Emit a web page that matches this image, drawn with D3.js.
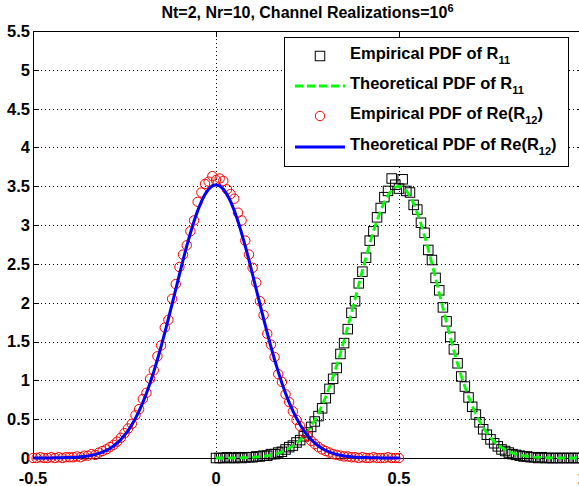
<!DOCTYPE html>
<html>
<head>
<meta charset="utf-8">
<script src="https://cdn.jsdelivr.net/npm/d3@7"></script>
<style>
  html, body { margin: 0; padding: 0; background: #fff; }
  svg { display: block; }
  text { font-family: "Liberation Sans", Arial, sans-serif; font-weight: bold; fill: #000; }
</style>
</head>
<body>
<svg id="chart" width="579" height="486"></svg>
<script>
// histogram bin centres, step 0.01
const re12Bins = d3.range(-50, 51).map(i => i / 100);
const r11Bins = d3.range(0, 101).map(i => i / 100);

// Re(R12), x = -0.50 .. 0.50
const re12Empirical = [
  0.00, 0.00, 0.01, 0.00, 0.00, 0.01, 0.00, 0.01, 0.00, 0.01,
  0.01, 0.01, 0.02, 0.01, 0.03, 0.03, 0.05, 0.04, 0.07, 0.09,
  0.11, 0.14, 0.17, 0.21, 0.26, 0.32, 0.38, 0.44, 0.55, 0.63,
  0.76, 0.84, 1.02, 1.13, 1.31, 1.45, 1.68, 1.78, 2.05, 2.24,
  2.46, 2.62, 2.74, 2.92, 3.06, 3.30, 3.42, 3.53, 3.56, 3.63,
  3.58,
  3.60, 3.57, 3.46, 3.40, 3.34, 3.16, 3.06, 2.80, 2.62, 2.45,
  2.26, 2.02, 1.84, 1.60, 1.46, 1.30, 1.08, 0.98, 0.82, 0.72,
  0.60, 0.49, 0.41, 0.33, 0.28, 0.22, 0.18, 0.14, 0.11, 0.09,
  0.07, 0.05, 0.04, 0.03, 0.02, 0.02, 0.01, 0.01, 0.00, 0.01,
  0.00, 0.00, 0.01, 0.00, 0.00, 0.00, 0.01, 0.00, 0.00, 0.00
];
const re12Theory = [
  0, 0, 0, 0, 0, 0.001, 0.002, 0.002, 0.003, 0.005,
  0.006, 0.008, 0.011, 0.015, 0.020, 0.026, 0.035, 0.045, 0.059, 0.076,
  0.097, 0.123, 0.155, 0.193, 0.238, 0.292, 0.354, 0.427, 0.511, 0.607,
  0.714, 0.834, 0.967, 1.112, 1.269, 1.436, 1.612, 1.795, 1.983, 2.173,
  2.363, 2.551, 2.729, 2.895, 3.051, 3.186, 3.302, 3.396, 3.464, 3.506,
  3.520,
  3.506, 3.464, 3.396, 3.302, 3.186, 3.051, 2.895, 2.729, 2.551, 2.363,
  2.173, 1.983, 1.795, 1.612, 1.436, 1.269, 1.112, 0.967, 0.834, 0.714,
  0.607, 0.511, 0.427, 0.354, 0.292, 0.238, 0.193, 0.155, 0.123, 0.097,
  0.076, 0.059, 0.045, 0.035, 0.026, 0.020, 0.015, 0.011, 0.008, 0.006,
  0.005, 0.003, 0.002, 0.002, 0.001, 0, 0, 0, 0, 0
];

// R11, x = 0.00 .. 1.00
const r11Empirical = [
  0.00, 0.00, 0.00, 0.01, 0.00, 0.00, 0.01, 0.00, 0.01, 0.01,
  0.01, 0.02, 0.02, 0.03, 0.03, 0.05, 0.05, 0.07, 0.08, 0.11,
  0.14, 0.16, 0.20, 0.23, 0.28, 0.33, 0.40, 0.47, 0.54, 0.64,
  0.77, 0.89, 1.02, 1.16, 1.34, 1.48, 1.66, 1.87, 2.02, 2.25,
  2.40, 2.58, 2.80, 2.92, 3.10, 3.22, 3.36, 3.44, 3.60, 3.52,
  3.47,
  3.59, 3.44, 3.42, 3.26, 3.20, 3.03, 2.90, 2.68, 2.55, 2.32,
  2.16, 1.94, 1.76, 1.56, 1.40, 1.22, 1.05, 0.92, 0.78, 0.66,
  0.56, 0.46, 0.37, 0.30, 0.24, 0.19, 0.15, 0.11, 0.09, 0.07,
  0.05, 0.04, 0.03, 0.02, 0.02, 0.01, 0.01, 0.00, 0.01, 0.00,
  0.00, 0.00, 0.00, 0.00, 0.00, 0.00, 0.00, 0.00, 0.00, 0.00
];
const r11Theory = [
  0.000, 0.000, 0.000, 0.001, 0.001, 0.001, 0.002, 0.003, 0.004, 0.005,
  0.009, 0.012, 0.016, 0.022, 0.028, 0.037, 0.048, 0.061, 0.078, 0.099,
  0.124, 0.154, 0.190, 0.233, 0.284, 0.343, 0.411, 0.490, 0.579, 0.679,
  0.792, 0.915, 1.050, 1.195, 1.351, 1.516, 1.690, 1.868, 2.050, 2.233,
  2.414, 2.591, 2.760, 2.918, 3.062, 3.189, 3.298, 3.385, 3.448, 3.487,
  3.500,
  3.486, 3.443, 3.372, 3.276, 3.156, 3.015, 2.857, 2.686, 2.503, 2.314,
  2.123, 1.931, 1.743, 1.558, 1.381, 1.215, 1.058, 0.918, 0.790, 0.671,
  0.566, 0.474, 0.393, 0.324, 0.265, 0.214, 0.172, 0.137, 0.108, 0.085,
  0.066, 0.051, 0.039, 0.030, 0.022, 0.017, 0.012, 0.009, 0.007, 0.005,
  0.003, 0.002, 0.001, 0.001, 0.000, 0.000, 0.000, 0.000, 0.000, 0.000
];

const xTicks = [-0.5, 0, 0.5, 1];
const yTicks = [0, 0.5, 1, 1.5, 2, 2.5, 3, 3.5, 4, 4.5, 5, 5.5];
const titleMain = 'Nt=2, Nr=10, Channel Realizations=10';
const titleSup = '6';
const legendLabels = [
  { text: 'Empirical PDF of R', sub: '11', tail: '' },
  { text: 'Theoretical PDF of R', sub: '11', tail: '' },
  { text: 'Empirical PDF of Re(R', sub: '12', tail: ')' },
  { text: 'Theoretical PDF of Re(R', sub: '12', tail: ')' }
];

const margin = { top: 31, left: 33, bottom: 28 };
const plotRight = 582; // right axis falls just outside the window
const height = 486;

const svg = d3.select('#chart');
const x = d3.scaleLinear().domain([-0.5, 1]).range([margin.left, plotRight]);
const y = d3.scaleLinear().domain([0, 5.5]).range([height - margin.bottom, margin.top]);
const px = v => Math.round(v) + 0.5;

// dotted grid
const grid = svg.append('g').attr('stroke', '#000').attr('stroke-width', 1)
  .attr('stroke-dasharray', '1,3').attr('shape-rendering', 'crispEdges');
grid.selectAll('.gx').data(xTicks.slice(1, -1)).enter().append('line')
  .attr('x1', d => px(x(d))).attr('x2', d => px(x(d)))
  .attr('y1', y(5.5)).attr('y2', y(0));
grid.selectAll('.gy').data(yTicks.slice(1, -1)).enter().append('line')
  .attr('y1', d => px(y(d))).attr('y2', d => px(y(d)))
  .attr('x1', x(-0.5)).attr('x2', x(1));

// axes box and inward ticks
const ax = svg.append('g').attr('stroke', '#000').attr('stroke-width', 1)
  .attr('shape-rendering', 'crispEdges').attr('fill', 'none');
ax.append('rect')
  .attr('x', px(x(-0.5))).attr('y', px(y(5.5)))
  .attr('width', Math.round(x(1)) - Math.round(x(-0.5)))
  .attr('height', Math.round(y(0)) - Math.round(y(5.5)));
const tl = 5;
xTicks.forEach(t => {
  const xx = px(x(t));
  ax.append('line').attr('x1', xx).attr('x2', xx).attr('y1', px(y(0))).attr('y2', px(y(0)) - tl);
  ax.append('line').attr('x1', xx).attr('x2', xx).attr('y1', px(y(5.5))).attr('y2', px(y(5.5)) + tl);
});
yTicks.forEach(t => {
  const yy = px(y(t));
  ax.append('line').attr('y1', yy).attr('y2', yy).attr('x1', px(x(-0.5))).attr('x2', px(x(-0.5)) + tl);
  ax.append('line').attr('y1', yy).attr('y2', yy).attr('x1', px(x(1))).attr('x2', px(x(1)) - tl);
});

// tick labels
svg.selectAll('.xl').data(xTicks).enter().append('text')
  .attr('x', d => x(d)).attr('y', 484)
  .attr('text-anchor', 'middle').style('font-size', '16.5px')
  .text(d => d3.format('')(d).replace('\u2212', '-'));
svg.selectAll('.yl').data(yTicks).enter().append('text')
  .attr('x', 30).attr('y', d => y(d) + 5.9)
  .attr('text-anchor', 'end').style('font-size', '16.5px')
  .text(d => d);

// title
const title = svg.append('text').attr('x', (margin.left + plotRight) / 2).attr('y', 18)
  .attr('text-anchor', 'middle').style('font-size', '16px');
title.append('tspan').text(titleMain);
title.append('tspan').attr('dy', -6).style('font-size', '11px').text(titleSup);

// data layers: squares, green dashed, circles, blue solid
const plot = svg.append('g');
const r11Pts = r11Bins.map((b, i) => [b, r11Empirical[i]]);
const re12Pts = re12Bins.map((b, i) => [b, re12Empirical[i]]);
const line = d3.line().x(d => x(d[0])).y(d => y(d[1]));
const sq = 9.5;
const cr = 4.7;

plot.selectAll('.sq').data(r11Pts).enter().append('rect')
  .attr('x', d => x(d[0]) - sq / 2).attr('y', d => y(d[1]) - sq / 2)
  .attr('width', sq).attr('height', sq)
  .attr('fill', 'none').attr('stroke', '#000').attr('stroke-width', 1);

plot.append('path')
  .datum(r11Bins.map((b, i) => [b, r11Theory[i]]))
  .attr('d', line).attr('fill', 'none')
  .attr('stroke', '#00ff00').attr('stroke-width', 2.8).attr('stroke-dasharray', '8,4');

plot.selectAll('.ci').data(re12Pts).enter().append('circle')
  .attr('cx', d => x(d[0])).attr('cy', d => y(d[1])).attr('r', cr)
  .attr('fill', 'none').attr('stroke', '#ff0000').attr('stroke-width', 1);

plot.append('path')
  .datum(re12Bins.map((b, i) => [b, re12Theory[i]]))
  .attr('d', line).attr('fill', 'none')
  .attr('stroke', '#0000ff').attr('stroke-width', 3);

// legend
const lg = svg.append('g');
lg.append('rect').attr('x', 284.5).attr('y', 37.5).attr('width', 284).attr('height', 129)
  .attr('fill', '#fff').attr('stroke', '#000').attr('stroke-width', 1)
  .attr('shape-rendering', 'crispEdges');
const rowY = [56, 86, 116, 147];
const sx0 = 295, sx1 = 345, sxm = 320;

lg.append('rect').attr('x', sxm - sq / 2).attr('y', rowY[0] - sq / 2).attr('width', sq).attr('height', sq)
  .attr('fill', 'none').attr('stroke', '#000');
lg.append('line').attr('x1', sx0).attr('x2', sx1).attr('y1', rowY[1]).attr('y2', rowY[1])
  .attr('stroke', '#00ff00').attr('stroke-width', 2.8).attr('stroke-dasharray', '8,4');
lg.append('circle').attr('cx', sxm).attr('cy', rowY[2]).attr('r', cr)
  .attr('fill', 'none').attr('stroke', '#ff0000');
lg.append('line').attr('x1', sx0).attr('x2', sx1).attr('y1', rowY[3]).attr('y2', rowY[3])
  .attr('stroke', '#0000ff').attr('stroke-width', 3);

legendLabels.forEach((d, i) => {
  const t = lg.append('text').attr('x', 350).attr('y', rowY[i] + 2.5).style('font-size', '16.5px');
  t.append('tspan').text(d.text);
  t.append('tspan').attr('dy', 5.5).style('font-size', '11px').text(d.sub);
  if (d.tail) t.append('tspan').attr('dy', -5.5).style('font-size', '16.5px').text(d.tail);
});
</script>
</body>
</html>
